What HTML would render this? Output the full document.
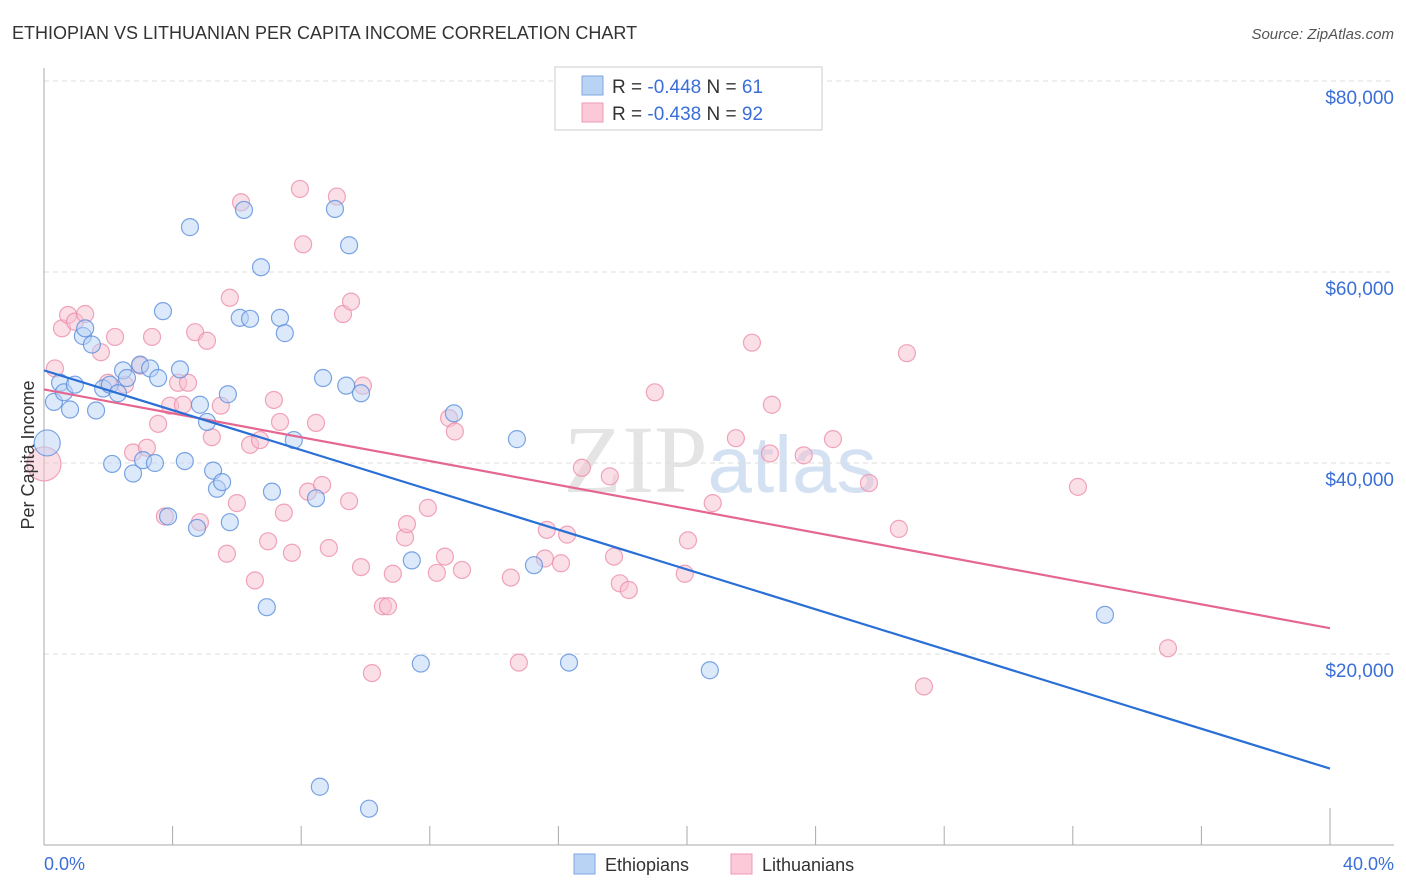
<!DOCTYPE html>
<html><head><meta charset="utf-8"><style>
body{margin:0;background:#fff;font-family:"Liberation Sans",sans-serif}
svg{display:block}
</style></head><body>
<svg id="chart" width="1406" height="892" xmlns="http://www.w3.org/2000/svg">
<text x="12" y="39" font-size="18" fill="#333">ETHIOPIAN VS LITHUANIAN PER CAPITA INCOME CORRELATION CHART</text>
<text x="1394" y="39" font-size="15" fill="#555" font-style="italic" text-anchor="end">Source: ZipAtlas.com</text>
<text x="720" y="492" font-size="96" fill="#e4e4e4" text-anchor="middle" font-family="Liberation Serif,serif">ZIP<tspan fill="#d3e1f3" font-family="Liberation Sans,sans-serif" font-size="80">atlas</tspan></text>
<g id="grid"></g><g id="axes"></g><g id="pts"></g><g id="lines"></g>
<text x="34" y="455" font-size="18" fill="#333" text-anchor="middle" transform="rotate(-90 34 455)">Per Capita Income</text>
<text x="44" y="870" font-size="18" fill="#3a6fd8">0.0%</text>
<text x="1394" y="870" font-size="18" fill="#3a6fd8" text-anchor="end">40.0%</text>
<g>
<rect x="555" y="67" width="267" height="63" fill="#fff" stroke="#ccc"/>
<rect x="582" y="76" width="21" height="19" fill="#b9d3f5" stroke="#7fa6e0"/>
<rect x="582" y="103" width="21" height="19" fill="#fbc9d8" stroke="#ee9ab3"/>
<text x="612" y="93" font-size="19" fill="#333">R = <tspan fill="#3a6fd8">-0.448</tspan>   N = <tspan fill="#3a6fd8"> 61</tspan></text>
<text x="612" y="120" font-size="19" fill="#333">R = <tspan fill="#3a6fd8">-0.438</tspan>   N = <tspan fill="#3a6fd8">92</tspan></text>
</g>
<g>
<rect x="574" y="854" width="21" height="20" fill="#b9d3f5" stroke="#7fa6e0"/>
<text x="605" y="871" font-size="18" fill="#333">Ethiopians</text>
<rect x="731" y="854" width="21" height="20" fill="#fbc9d8" stroke="#ee9ab3"/>
<text x="762" y="871" font-size="18" fill="#333">Lithuanians</text>
</g>
</svg>
<script>
const yTicks=[20000,40000,60000,80000];
const yTickLabels=["$20,000","$40,000","$60,000","$80,000"];
const xTicks=[0,4,8,12,16,20,24,28,32,36,40];
const ethX=[0.31,0.5,0.62,0.81,0.96,1.21,1.28,1.49,1.62,1.84,2.05,2.12,2.3,2.46,2.58,2.77,2.99,3.08,3.3,3.45,3.55,3.7,3.86,4.23,4.38,4.54,4.76,4.85,5.07,5.26,5.38,5.54,5.72,5.78,6.09,6.22,6.41,6.75,6.93,7.09,7.34,7.49,7.77,8.46,8.68,9.05,9.4,9.49,9.86,11.44,11.72,12.75,14.71,15.24,16.33,20.71,33.0,8.58,10.11,0.1];
const ethY=[46.4,48.4,47.4,45.6,48.2,53.3,54.1,52.4,45.5,47.8,48.2,39.9,47.3,49.7,48.9,38.9,50.3,40.3,49.9,40.0,48.9,55.9,34.4,49.8,40.2,64.7,33.2,46.1,44.3,39.2,37.3,38.0,47.2,33.8,55.2,66.5,55.1,60.5,24.9,37.0,55.2,53.6,42.4,36.3,48.9,66.6,48.1,62.8,47.3,29.8,19.0,45.2,42.5,29.3,19.1,18.3,24.1,6.1,3.8,42.1];
const litX=[0,0.34,0.56,0.75,0.96,1.28,1.77,1.99,2.21,2.52,2.77,2.99,3.2,3.36,3.55,3.76,3.92,4.17,4.32,4.48,4.7,4.85,5.07,5.22,5.5,5.69,5.78,6.0,6.13,6.41,6.56,6.72,6.97,7.15,7.34,7.46,7.71,7.96,8.06,8.21,8.46,8.65,8.86,9.11,9.3,9.49,9.55,9.86,9.92,10.2,10.54,10.7,10.85,11.23,11.29,11.94,12.22,12.47,12.6,12.78,13.0,14.52,14.77,15.58,15.64,16.08,16.27,16.73,17.6,17.73,17.91,18.19,19.0,19.93,20.03,20.8,21.52,22.02,22.58,22.64,23.63,24.54,25.66,26.59,26.84,27.37,32.16,34.96];
const litY=[39.9,49.9,54.1,55.5,54.8,55.6,51.6,48.4,53.2,48.2,41.1,50.2,41.6,53.2,44.1,34.4,46.0,48.4,46.1,48.4,53.7,33.8,52.8,42.7,46.0,30.5,57.3,35.8,67.3,41.9,27.7,42.4,31.8,46.6,44.3,34.8,30.6,68.7,62.9,37.0,44.2,37.7,31.1,67.9,55.6,36.0,56.9,29.1,48.1,18.0,25.0,25.0,28.4,32.2,33.6,35.3,28.5,30.2,44.7,43.3,28.8,28.0,19.1,30.0,33.0,29.5,32.5,39.5,38.6,30.2,27.4,26.7,47.4,28.4,31.9,35.8,42.6,52.6,41.0,46.1,40.8,42.5,37.9,33.1,51.5,16.6,37.5,20.6];
const ethTrend=[49.7,8.0];
const litTrend=[47.7,22.7];
const NS="http://www.w3.org/2000/svg";
const sx=v=>44+v/40*1286;
const sy=v=>845-v*191/20000;
function mk(tag,attrs,parent){const e=document.createElementNS(NS,tag);for(const k in attrs)e.setAttribute(k,attrs[k]);document.getElementById(parent).appendChild(e);return e;}
yTicks.forEach((t,i)=>{
 const l=mk('line',{x1:44,x2:1394,y1:sy(t),y2:sy(t),stroke:'#ddd','stroke-dasharray':'5,4'},'grid');
 
 
 const tx=mk('text',{x:1394,y:sy(t)+23,'font-size':19,fill:'#3a6fd8','text-anchor':'end'},'grid');
 tx.textContent=yTickLabels[i];
 
 
});
const ax=mk('line',{x1:44,x2:1394,y1:845,y2:845,stroke:'#aaa'},'axes');


const ay=mk('line',{x1:44,x2:44,y1:68,y2:845,stroke:'#aaa'},'axes');


xTicks.forEach((t,i)=>{
 const tk=mk('line',{x1:sx(t),x2:sx(t),y1:i==xTicks.length-1?808:826,y2:845,stroke:'#aaa'},'axes');
 
 
});
function pts(X,Y,fill,stroke,name,bigIdx,bigR){
 X.forEach((x,i)=>{
  const c=mk('circle',{cx:sx(x),cy:sy(Y[i]*1000),r:i===bigIdx?bigR:8.5,fill:fill,'fill-opacity':0.5,stroke:stroke,'stroke-width':1.2,'stroke-opacity':0.8},'pts');
  
  
 });
}
pts(litX,litY,'#f8bfd0','#ec8fab','lithuanian-point',0,17);
pts(ethX,ethY,'#b9d3f5','#5b8fdd','ethiopian-point',ethX.length-1,13);
const t1=mk('line',{x1:sx(0),y1:sy(litTrend[0]*1000),x2:sx(40),y2:sy(litTrend[1]*1000),stroke:'#e5678f','stroke-width':2.2},'lines');


const t2=mk('line',{x1:sx(0),y1:sy(ethTrend[0]*1000),x2:sx(40),y2:sy(ethTrend[1]*1000),stroke:'#2a6fd6','stroke-width':2.2},'lines');


</script>
</body></html>
